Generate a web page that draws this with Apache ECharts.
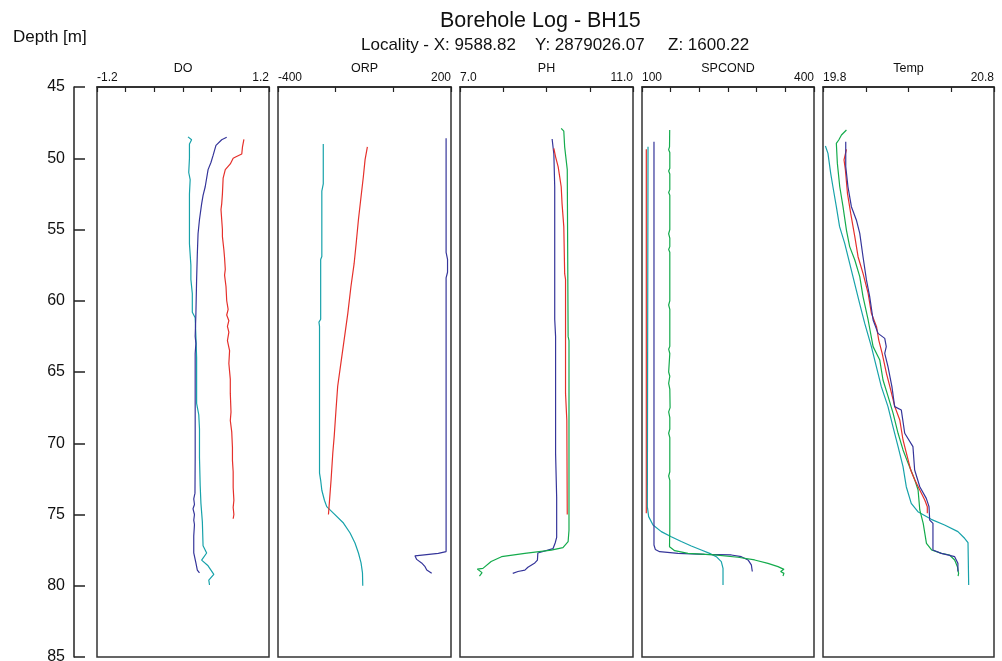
<!DOCTYPE html>
<html>
<head>
<meta charset="utf-8">
<title>Borehole Log - BH15</title>
<script src="https://cdn.jsdelivr.net/npm/echarts@6/dist/echarts.min.js"></script>
<style>
  html, body { margin: 0; padding: 0; background: #fff; }
  #chart { width: 1002px; height: 661px; }
</style>
</head>
<body>
<div id="chart"></div>
<script>
// depth axis
const depthMin = 45
const depthMax = 85
const depthStep = 5

// panels: name, range, tick values, labels shown
const panelNames = ['DO', 'ORP', 'PH', 'SPCOND', 'Temp']
const panelMin = [-1.2, -400, 7, 100, 19.8]
const panelMax = [1.2, 200, 11, 400, 20.8]
const doTicks = [-1.2, -0.8, -0.4, 0, 0.4, 0.8, 1.2]
const orpTicks = [-400, -200, 0, 200]
const phTicks = [7, 8, 9, 10, 11]
const spcondTicks = [100, 150, 200, 250, 300, 350, 400]
const tempTicks = [19.8, 20.05, 20.3, 20.55, 20.8]
const minLabels = ['-1.2', '-400', '7.0', '100', '19.8']
const maxLabels = ['1.2', '200', '11.0', '400', '20.8']

// [value, depth] pairs
const doTeal = [[0.07,48.5],[0.12,48.7],[0.09,49.0],[0.09,50.0],[0.08,51.0],[0.10,51.5],[0.09,52.5],[0.09,54.0],[0.09,56.0],[0.11,57.5],[0.11,58.5],[0.13,59.5],[0.13,60.8],[0.17,61.2],[0.18,62.5],[0.19,64.0],[0.19,66.0],[0.19,67.2],[0.22,68.0],[0.23,69.0],[0.23,71.0],[0.24,73.0],[0.25,74.2],[0.27,75.5],[0.28,77.2],[0.33,77.7],[0.26,78.2],[0.35,78.6],[0.43,79.2],[0.36,79.6],[0.37,79.95]]
const doBlue = [[0.61,48.53],[0.54,48.7],[0.46,49.1],[0.42,49.8],[0.39,50.3],[0.35,50.8],[0.31,52.0],[0.28,52.6],[0.26,53.2],[0.23,54.3],[0.21,55.3],[0.20,56.7],[0.19,58.5],[0.18,60.9],[0.17,62.5],[0.18,63.0],[0.17,63.7],[0.17,66.0],[0.17,68.4],[0.17,71.0],[0.167,73.5],[0.15,73.9],[0.16,74.3],[0.14,74.6],[0.16,75.0],[0.15,75.4],[0.16,75.7],[0.15,76.5],[0.15,77.7],[0.18,78.4],[0.20,78.9],[0.23,79.1]]
const doRed = [[0.85,48.67],[0.83,49.2],[0.82,49.7],[0.74,49.9],[0.70,50.0],[0.66,50.4],[0.59,50.8],[0.56,51.4],[0.55,52.5],[0.54,53.2],[0.53,53.6],[0.55,55.0],[0.55,55.5],[0.57,56.4],[0.58,57.0],[0.59,57.8],[0.58,58.2],[0.60,59.0],[0.61,60.0],[0.63,60.6],[0.61,61.0],[0.64,61.4],[0.62,61.8],[0.64,62.2],[0.62,62.8],[0.65,63.5],[0.64,64.4],[0.66,65.5],[0.66,66.5],[0.67,67.8],[0.66,68.4],[0.68,69.2],[0.69,70.3],[0.69,71.2],[0.70,72.0],[0.70,73.1],[0.71,74.0],[0.70,74.5],[0.71,75.0],[0.70,75.3]]

const orpTeal = [[-243,49.0],[-243,51.8],[-248,52.3],[-248,56.9],[-252,57.1],[-252,61.3],[-258,61.5],[-256,61.8],[-256,66.0],[-256,72.1],[-252,72.6],[-248,73.3],[-239,74.0],[-231,74.45],[-208,74.9],[-173,75.6],[-150,76.3],[-133,77.0],[-121,77.7],[-112,78.4],[-107,79.1],[-106,80.0]]
const orpRed = [[-90,49.2],[-98,50.1],[-104,51.3],[-112,52.7],[-121,54.3],[-129,56.0],[-136,57.4],[-147,59.0],[-158,60.9],[-171,62.8],[-182,64.4],[-193,66.0],[-199,67.7],[-205,69.5],[-210,70.7],[-216,72.6],[-222,74.2],[-225,75.0]]
const orpBlue = [[183,48.6],[183,56.6],[188,57.1],[188,58.0],[183,58.4],[183,77.6],[156,77.73],[75,77.9],[81,78.15],[98,78.4],[110,78.66],[116,78.9],[133,79.13]]

const phBlue = [[9.13,48.65],[9.17,49.7],[9.19,52.0],[9.19,61.3],[9.21,62.5],[9.21,70.7],[9.235,73.8],[9.235,76.6],[9.20,77.0],[9.15,77.4],[8.80,77.7],[8.79,78.2],[8.73,78.4],[8.57,78.7],[8.50,78.9],[8.34,79.0],[8.22,79.13]]
const phRed = [[9.17,49.3],[9.21,49.9],[9.27,50.6],[9.30,51.2],[9.34,52.0],[9.36,53.2],[9.40,54.8],[9.42,58.1],[9.44,58.5],[9.44,66.5],[9.47,68.4],[9.48,75.0]]
const phGreen = [[9.34,47.9],[9.40,48.1],[9.42,49.2],[9.48,50.8],[9.50,62.5],[9.52,62.8],[9.52,76.1],[9.50,76.9],[9.38,77.33],[9.11,77.5],[8.50,77.73],[7.96,77.96],[7.72,78.3],[7.53,78.78],[7.40,78.83],[7.51,79.08],[7.45,79.32]]

const spRed = [[107.5,49.37],[107.5,74.92]]
const spTeal = [[110.5,49.19],[109.3,74.45],[111.6,75.15],[119.2,75.74],[133.7,76.2],[151,76.56],[168.5,76.9],[186,77.21],[203.4,77.49],[218,77.73],[229.6,77.96],[238.3,78.31],[241.3,78.78],[241.3,79.95]]
const spBlue = [[120.9,48.84],[120.9,77.14],[123.2,77.45],[130.8,77.61],[162.8,77.73],[209.3,77.8],[255.8,77.84],[273.2,77.96],[284.9,78.19],[290.7,78.54],[292.4,79.0]]
const spGreen = [[148.3,48.02],[148,49.2],[146.5,49.4],[148.5,49.6],[148.5,50.7],[146.5,50.9],[148.5,51.1],[148.5,52.2],[146.5,52.4],[148.5,52.6],[148.5,55.0],[146.5,55.3],[148.5,55.6],[148.5,56.2],[146.5,56.4],[148.5,56.6],[148.5,60.0],[146.5,60.3],[148.5,60.6],[148.5,63.2],[146.5,63.4],[148.5,63.7],[146.5,65.0],[148.5,65.3],[146.5,65.8],[148.5,66.2],[149,67.5],[146.5,67.8],[148.5,68.2],[148.5,69.0],[146.5,69.3],[148.5,69.6],[148.5,72.0],[146.5,72.3],[148.5,72.6],[148.5,76.0],[148,77.26],[157,77.54],[180.2,77.73],[226.8,77.84],[267.4,78.0],[296.5,78.19],[319.7,78.43],[337.2,78.66],[347.6,78.85],[341.8,79.0],[347.6,79.13],[345.9,79.32]]

const tempTeal = [[19.814,49.14],[19.829,49.66],[19.845,51.06],[19.858,52.0],[19.878,53.4],[19.897,54.8],[19.927,55.97],[19.956,57.37],[19.985,58.78],[20.014,60.18],[20.044,61.59],[20.083,63.22],[20.112,64.63],[20.141,66.03],[20.18,67.43],[20.209,68.84],[20.239,70.24],[20.268,71.64],[20.287,73.05],[20.316,74.22],[20.355,74.8],[20.433,75.34],[20.511,75.74],[20.589,76.2],[20.628,76.67],[20.648,76.98],[20.652,79.95]]
const tempGreen = [[19.937,48.02],[19.908,48.37],[19.892,48.72],[19.878,48.95],[19.884,50.36],[19.898,52.0],[19.917,53.4],[19.937,55.04],[19.956,56.2],[19.986,57.14],[20.015,58.31],[20.034,59.71],[20.064,61.35],[20.093,63.22],[20.132,64.16],[20.151,65.56],[20.181,66.73],[20.21,67.9],[20.239,69.3],[20.268,70.47],[20.298,71.41],[20.337,72.58],[20.356,73.28],[20.366,74.68],[20.386,75.62],[20.405,77.02],[20.435,77.49],[20.493,77.73],[20.54,77.84],[20.57,78.19],[20.586,78.66],[20.593,79.13],[20.59,79.32]]
const tempRed = [[19.937,49.37],[19.923,50.12],[19.931,50.82],[19.943,52.46],[19.962,53.87],[19.986,55.5],[20.005,56.91],[20.034,58.08],[20.064,59.48],[20.083,60.88],[20.113,61.82],[20.126,62.76],[20.146,63.69],[20.171,65.1],[20.191,66.03],[20.22,67.43],[20.249,68.37],[20.268,69.77],[20.288,70.71],[20.313,71.88],[20.337,72.58],[20.366,73.28],[20.395,73.98],[20.41,74.45],[20.41,74.92]]
const tempBlue = [[19.933,48.84],[19.933,50.59],[19.946,52.0],[19.966,53.4],[19.995,54.33],[20.015,55.27],[20.034,56.91],[20.054,58.54],[20.073,59.71],[20.093,61.35],[20.122,62.29],[20.161,62.64],[20.17,63.22],[20.161,63.69],[20.18,64.63],[20.203,66.03],[20.219,67.43],[20.258,67.67],[20.278,69.3],[20.326,70.24],[20.336,71.88],[20.366,73.05],[20.404,73.87],[20.42,74.45],[20.424,75.39],[20.443,75.62],[20.443,77.49],[20.492,77.73],[20.57,77.96],[20.589,78.43],[20.589,79.0]]

const TEAL = '#17a2aa'
const BLUE = '#35359a'
const RED = '#e5302b'
const GREEN = '#14ab4c'

const panelTicks = [doTicks, orpTicks, phTicks, spcondTicks, tempTicks]
const panelLines = [
  [[doTeal, TEAL], [doBlue, BLUE], [doRed, RED]],
  [[orpTeal, TEAL], [orpRed, RED], [orpBlue, BLUE]],
  [[phBlue, BLUE], [phRed, RED], [phGreen, GREEN]],
  [[spRed, RED], [spTeal, TEAL], [spBlue, BLUE], [spGreen, GREEN]],
  [[tempTeal, TEAL], [tempGreen, GREEN], [tempRed, RED], [tempBlue, BLUE]]
]

const gridLeft = [97, 278, 460, 642, 823]
const gridWidth = [172, 173, 173, 172, 171]
const FONT = 'Liberation Sans, Arial, sans-serif'

const chart = echarts.init(document.getElementById('chart'))

const grids = []
const xAxes = []
const yAxes = []
const series = []

panelNames.forEach((name, i) => {
  grids.push({
    left: gridLeft[i], width: gridWidth[i], top: 87, bottom: 4,
    outerBoundsMode: 'none',
    show: true, borderColor: '#333', borderWidth: 1.5, backgroundColor: 'transparent'
  })
  xAxes.push({
    gridIndex: i,
    type: 'value',
    position: 'top',
    min: panelMin[i],
    max: panelMax[i],
    name: name,
    nameLocation: 'middle',
    nameGap: 12,
    nameMoveOverlap: false,
    nameTextStyle: { fontSize: 12.5, color: '#111', fontFamily: FONT },
    axisLine: { show: true, onZero: false, lineStyle: { color: '#222', width: 1.5 } },
    axisTick: { show: true, inside: true, length: 5, customValues: panelTicks[i], lineStyle: { color: '#222', width: 1.2 } },
    axisLabel: {
      show: true,
      margin: 3,
      fontSize: 12,
      color: '#111',
      fontFamily: FONT,
      customValues: [panelMin[i], panelMax[i]],
      alignMinLabel: 'left',
      alignMaxLabel: 'right',
      formatter: (v) => Math.abs(v - panelMin[i]) < 1e-9 ? minLabels[i] : maxLabels[i]
    },
    splitLine: { show: false }
  })
  yAxes.push({
    gridIndex: i,
    type: 'value',
    min: depthMin,
    max: depthMax,
    interval: depthStep,
    inverse: true,
    show: i === 0,
    position: 'left',
    offset: 23,
    axisLine: { show: true, onZero: false, lineStyle: { color: '#222', width: 1.5 } },
    axisTick: { show: true, inside: true, length: 11, lineStyle: { color: '#222', width: 1.5 } },
    axisLabel: { margin: 9, fontSize: 16, color: '#111', fontFamily: FONT },
    splitLine: { show: false }
  })
  panelLines[i].forEach(([pts, color]) => {
    series.push({
      type: 'line',
      xAxisIndex: i,
      yAxisIndex: i,
      data: pts,
      showSymbol: false,
      symbol: 'none',
      lineStyle: { color: color, width: 1.2 },
      silent: true
    })
  })
})

const textStyle = (size) => ({ fontSize: size, fontWeight: 'normal', color: '#111', fontFamily: FONT })

chart.setOption({
  animation: false,
  backgroundColor: '#fff',
  title: [
    { text: 'Borehole Log - BH15', left: 440, top: 10, padding: 0, textStyle: textStyle(21.5) },
    { text: 'Locality - X: 9588.82', left: 361, top: 37, padding: 0, textStyle: textStyle(17) },
    { text: 'Y: 2879026.07', left: 535, top: 37, padding: 0, textStyle: textStyle(17) },
    { text: 'Z: 1600.22', left: 668, top: 37, padding: 0, textStyle: textStyle(17) },
    { text: 'Depth [m]', left: 13, top: 29, padding: 0, textStyle: textStyle(17) }
  ],
  grid: grids,
  xAxis: xAxes,
  yAxis: yAxes,
  series: series
})
</script>
</body>
</html>
